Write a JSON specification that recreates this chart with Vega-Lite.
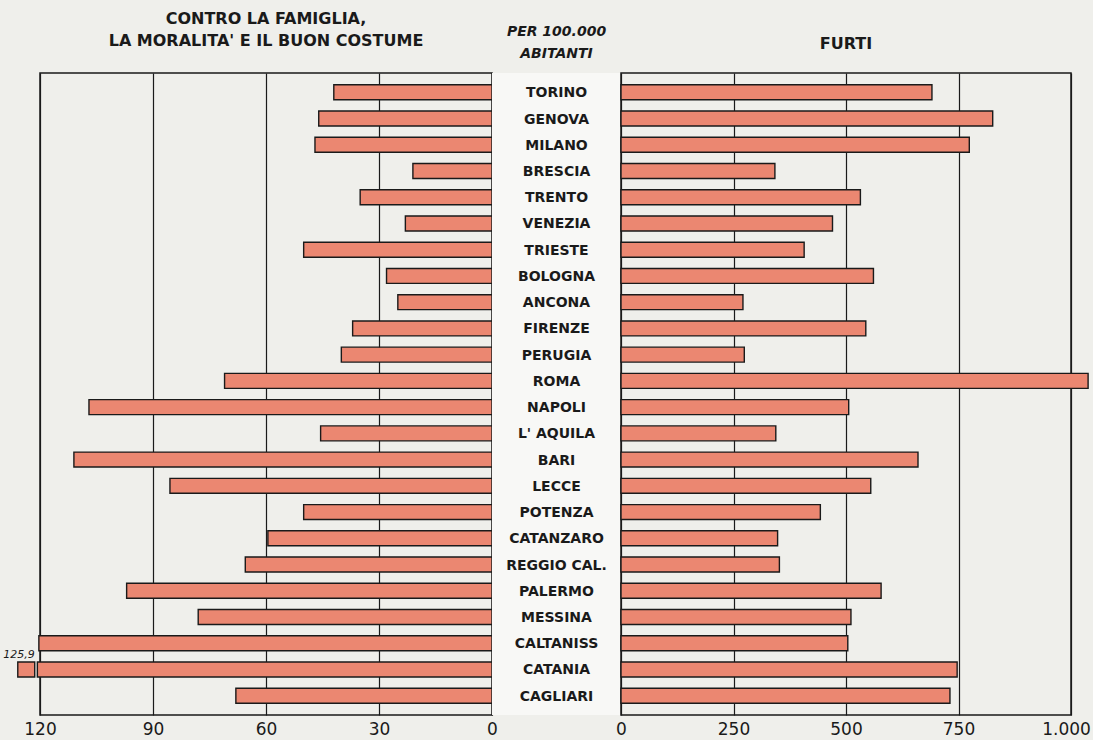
{
  "$schema": "https://vega.github.io/schema/vega-lite/v6.json",
  "background": "#efefeb",
  "padding": {"left": 2, "top": 10, "right": 5, "bottom": 5},
  "spacing": 0,
  "bounds": "flush",
  "datasets": {
    "citta": [
      {"city": "TORINO", "famiglia": 42, "furti": 691},
      {"city": "GENOVA", "famiglia": 46, "furti": 826},
      {"city": "MILANO", "famiglia": 47, "furti": 774},
      {"city": "BRESCIA", "famiglia": 21, "furti": 342},
      {"city": "TRENTO", "famiglia": 35, "furti": 532},
      {"city": "VENEZIA", "famiglia": 23, "furti": 470},
      {"city": "TRIESTE", "famiglia": 50, "furti": 407},
      {"city": "BOLOGNA", "famiglia": 28, "furti": 561},
      {"city": "ANCONA", "famiglia": 25, "furti": 271},
      {"city": "FIRENZE", "famiglia": 37, "furti": 544},
      {"city": "PERUGIA", "famiglia": 40, "furti": 274},
      {"city": "ROMA", "famiglia": 71, "furti": 1038},
      {"city": "NAPOLI", "famiglia": 107, "furti": 506},
      {"city": "L' AQUILA", "famiglia": 45.5, "furti": 344},
      {"city": "BARI", "famiglia": 111, "furti": 660},
      {"city": "LECCE", "famiglia": 85.5, "furti": 555},
      {"city": "POTENZA", "famiglia": 50, "furti": 443},
      {"city": "CATANZARO", "famiglia": 59.5, "furti": 348},
      {"city": "REGGIO CAL.", "famiglia": 65.5, "furti": 352},
      {"city": "PALERMO", "famiglia": 97, "furti": 578},
      {"city": "MESSINA", "famiglia": 78, "furti": 511},
      {"city": "CALTANISS", "famiglia": 120.3, "furti": 504},
      {"city": "CATANIA", "famiglia": 125.9, "furti": 747},
      {"city": "CAGLIARI", "famiglia": 68, "furti": 731}
    ],
    "catania_segmenti": [
      {"city": "CATANIA", "da": 0, "a": 120.7},
      {"city": "CATANIA", "da": 121.4, "a": 125.9}
    ]
  },
  "config": {
    "font": "DejaVu Sans",
    "locale": {"number": {"decimal": ",", "thousands": ".", "grouping": [3], "currency": ["", " €"]}},
    "title": {"font": "DejaVu Sans", "fontSize": 16, "fontWeight": "bold", "color": "#1a1a1a", "baseline": "bottom", "offset": 24, "lineHeight": 22},
    "axis": {
      "labelFont": "DejaVu Sans", "labelFontSize": 17, "labelColor": "#1a1a1a",
      "ticks": false, "domain": false, "labelPadding": 6, "labelFlush": false,
      "grid": true, "gridColor": "#1a1a1a", "gridWidth": 1.2, "gridOpacity": 1, "title": null
    },
    "view": {"stroke": "#1a1a1a", "strokeWidth": 1.5}
  },
  "hconcat": [
    {
      "width": 452, "height": 642,
      "title": {"text": ["CONTRO LA FAMIGLIA,", "LA MORALITA' E IL BUON COSTUME"]},
      "layer": [
        {
          "data": {"name": "citta"},
          "transform": [{"filter": "datum.famiglia < 121"}],
          "mark": {"type": "bar", "fill": "#eb8771", "stroke": "#1a1a1a", "strokeWidth": 1.4, "clip": false},
          "encoding": {
            "y": {"field": "city", "type": "nominal", "sort": null, "axis": null,
                  "scale": {"type": "band", "domain": ["TORINO","GENOVA","MILANO","BRESCIA","TRENTO","VENEZIA","TRIESTE","BOLOGNA","ANCONA","FIRENZE","PERUGIA","ROMA","NAPOLI","L' AQUILA","BARI","LECCE","POTENZA","CATANZARO","REGGIO CAL.","PALERMO","MESSINA","CALTANISS","CATANIA","CAGLIARI"],
                            "paddingInner": 0.43, "paddingOuter": 0.45}},
            "x": {"field": "famiglia", "type": "quantitative", "scale": {"domain": [0, 120], "reverse": true, "nice": false},
                  "axis": {"values": [0, 30, 60, 90, 120], "format": "d"}}
          }
        },
        {
          "data": {"name": "catania_segmenti"},
          "mark": {"type": "bar", "fill": "#eb8771", "stroke": "#1a1a1a", "strokeWidth": 1.4, "clip": false},
          "encoding": {
            "y": {"field": "city", "type": "nominal", "sort": null},
            "x": {"field": "a", "type": "quantitative"},
            "x2": {"field": "da"}
          }
        },
        {
          "data": {"name": "catania_segmenti"},
          "transform": [{"filter": "datum.da > 0"}],
          "mark": {"type": "text", "align": "right", "baseline": "bottom", "dy": -9, "fontSize": 11, "fontStyle": "italic", "color": "#1a1a1a", "clip": false},
          "encoding": {
            "y": {"field": "city", "type": "nominal", "sort": null},
            "x": {"field": "da", "type": "quantitative"},
            "text": {"field": "a", "type": "quantitative", "format": ".1f"}
          }
        }
      ]
    },
    {
      "width": 129, "height": 642,
      "title": {"text": ["PER 100.000", "ABITANTI"], "fontStyle": "italic", "fontSize": 14, "fontWeight": "bold", "offset": 12},
      "view": {"stroke": null, "fill": "#f8f8f6"},
      "data": {"name": "citta"},
      "mark": {"type": "text", "fontSize": 14, "fontWeight": "bold", "baseline": "middle", "dy": 1, "color": "#1a1a1a"},
      "encoding": {
        "y": {"field": "city", "type": "nominal", "sort": null, "axis": null,
              "scale": {"type": "band", "domain": ["TORINO","GENOVA","MILANO","BRESCIA","TRENTO","VENEZIA","TRIESTE","BOLOGNA","ANCONA","FIRENZE","PERUGIA","ROMA","NAPOLI","L' AQUILA","BARI","LECCE","POTENZA","CATANZARO","REGGIO CAL.","PALERMO","MESSINA","CALTANISS","CATANIA","CAGLIARI"],
                        "paddingInner": 0.43, "paddingOuter": 0.45}},
        "text": {"field": "city", "type": "nominal"}
      }
    },
    {
      "width": 450, "height": 642,
      "title": {"text": "FURTI", "offset": 21},
      "data": {"name": "citta"},
      "mark": {"type": "bar", "fill": "#eb8771", "stroke": "#1a1a1a", "strokeWidth": 1.4, "clip": false},
      "encoding": {
        "y": {"field": "city", "type": "nominal", "sort": null, "axis": null,
              "scale": {"type": "band", "domain": ["TORINO","GENOVA","MILANO","BRESCIA","TRENTO","VENEZIA","TRIESTE","BOLOGNA","ANCONA","FIRENZE","PERUGIA","ROMA","NAPOLI","L' AQUILA","BARI","LECCE","POTENZA","CATANZARO","REGGIO CAL.","PALERMO","MESSINA","CALTANISS","CATANIA","CAGLIARI"],
                        "paddingInner": 0.43, "paddingOuter": 0.45}},
        "x": {"field": "furti", "type": "quantitative", "scale": {"domain": [0, 1000], "nice": false},
              "axis": {"values": [0, 250, 500, 750, 1000], "format": ",d",
                       "labelOffset": {"condition": {"test": "datum.value == 1000", "value": -5}, "value": 0}}}
      }
    }
  ]
}
